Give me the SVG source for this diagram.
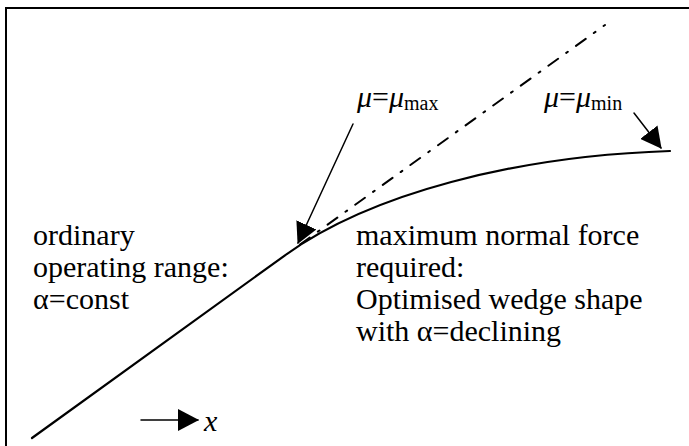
<svg xmlns="http://www.w3.org/2000/svg" width="689" height="446" viewBox="0 0 689 446">
<defs>
<marker id="ah" markerUnits="userSpaceOnUse" markerWidth="22" markerHeight="22" refX="20" refY="11" orient="auto" viewBox="0 0 22 22">
<path d="M0,0 L21,11 L0,22 z" fill="#000"/>
</marker>
</defs>
<style>
text{font-family:'Liberation Serif','Times New Roman',serif;font-size:30px;fill:#000}
.i{font-style:italic}
.ln{fill:none;stroke:#000;stroke-linecap:round}
</style>
<rect width="689" height="446" fill="#fff"/>
<path d="M6,446 V8 H689" fill="none" stroke="#000" stroke-width="2"/>
<g id="connectors">
<path id="curve" class="ln" stroke-width="2.2" d="M32,438 L285,255.3 C370,194 515,156 670,151"/>
<path id="tangent" class="ln" stroke-width="2" stroke-linecap="butt" stroke-dasharray="12 10 2 10" d="M300,244.5 L605,25"/>
<path id="arrow-max" class="ln" stroke-width="1.5" marker-end="url(#ah)" d="M353,124 L298,243"/>
<path id="arrow-min" class="ln" stroke-width="1.5" marker-end="url(#ah)" d="M634,113 L661,148"/>
<path id="arrow-x" class="ln" stroke-width="1.5" marker-end="url(#ah)" d="M141,420 L198,420"/>
</g>
<g id="label-mumax"><text x="357" y="107"><tspan class="i">μ</tspan>=<tspan class="i">μ</tspan><tspan font-size="20" dy="3">max</tspan></text></g>
<g id="label-mumin"><text x="544" y="107"><tspan class="i">μ</tspan>=<tspan class="i">μ</tspan><tspan font-size="20" dy="3">min</tspan></text></g>
<g id="label-left">
<text x="33" y="245">ordinary</text>
<text x="33" y="277">operating range:</text>
<text x="33" y="309">α=const</text>
</g>
<g id="label-right">
<text x="356" y="245">maximum normal force</text>
<text x="356" y="277">required:</text>
<text x="356" y="309">Optimised wedge shape</text>
<text x="356" y="341">with α=declining</text>
</g>
<g id="label-x"><text class="i" x="204" y="431">x</text></g>
</svg>
